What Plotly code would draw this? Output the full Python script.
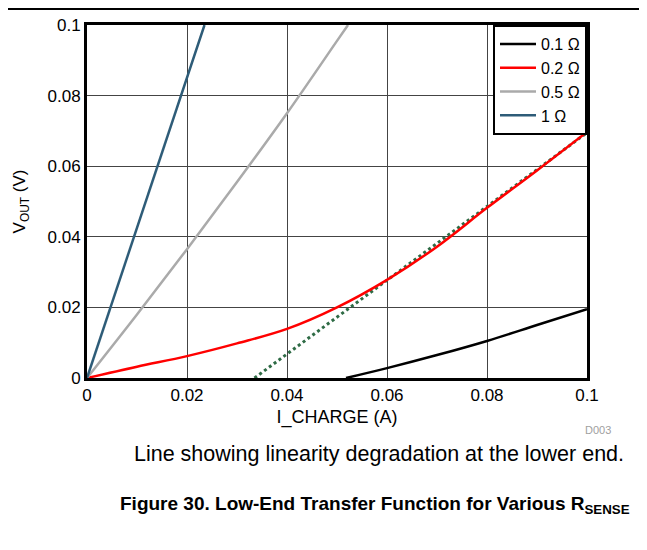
import plotly.graph_objects as go

# ── data ──────────────────────────────────────────────────────────────────────
x_01 = [0.0518, 0.06, 0.07, 0.08, 0.09, 0.1]
y_01 = [0.0, 0.0028, 0.0065, 0.0105, 0.0150, 0.0195]

x_02 = [0.0, 0.01, 0.02, 0.03, 0.04, 0.05, 0.06, 0.07, 0.08, 0.09, 0.1]
y_02 = [0.0, 0.0032, 0.0062, 0.0098, 0.0139, 0.0200, 0.0278, 0.0372, 0.0482, 0.0588, 0.0697]

x_05 = [0.0, 0.01, 0.02, 0.03, 0.04, 0.05, 0.0522]
y_05 = [0.0, 0.0180, 0.0365, 0.0555, 0.0750, 0.0955, 0.1]

x_1 = [0.0, 0.0235]
y_1 = [0.0, 0.1]

x_ideal = [0.0335, 0.1]
y_ideal = [0.0, 0.0695]

TICKS = [0, 0.02, 0.04, 0.06, 0.08, 0.1]
TICK_TEXT = ["0", "0.02", "0.04", "0.06", "0.08", "0.1"]

SERIES = [
    ("0.1 Ω", x_01, y_01, "#000000"),
    ("0.2 Ω", x_02, y_02, "#FF0000"),
    ("0.5 Ω", x_05, y_05, "#AAAAAA"),
    ("1 Ω",   x_1,  y_1,  "#2E5C78"),
]

FONT = "Liberation Sans, Arial, sans-serif"

fig = go.Figure()

# dotted "ideal" line first so the red curve sits on top of it
fig.add_trace(go.Scatter(
    x=x_ideal, y=y_ideal, mode="lines",
    line=dict(color="#2E6B45", width=3, dash="dot"),
    showlegend=False, hoverinfo="skip",
))

for name, xs, ys, col in SERIES:
    fig.add_trace(go.Scatter(
        x=xs, y=ys, mode="lines", name=name,
        line=dict(color=col, width=2.5, shape="spline"),
    ))

# the page body has an 8px default margin, so the figure is 8px smaller
fig.update_layout(
    width=639, height=542,
    margin=dict(l=79, r=60, t=17, b=172),
    plot_bgcolor="#FFFFFF", paper_bgcolor="#FFFFFF",
    font=dict(family=FONT, size=17, color="#000000"),
    legend=dict(
        x=1, y=1, xanchor="right", yanchor="top",
        bgcolor="#FFFFFF", bordercolor="#000000", borderwidth=2,
        font=dict(size=16), tracegroupgap=0, itemwidth=36,
    ),
    shapes=[dict(
        type="line", xref="paper", yref="paper",
        x0=-0.2, x1=1.2, y0=1.0 + 16 / 353, y1=1.0 + 16 / 353,
        line=dict(color="#000000", width=2),
    )],
)

fig.update_xaxes(
    range=[0, 0.1], tickvals=TICKS, ticktext=TICK_TEXT, automargin=False,
    showgrid=True, gridcolor="#444444", gridwidth=1,
    showline=True, mirror=True, linecolor="#000000", linewidth=3,
    zeroline=False, ticks="",
    title=dict(text="I_CHARGE (A)", standoff=6, font=dict(size=18)),
)
fig.update_yaxes(
    range=[0, 0.1], tickvals=TICKS, ticktext=TICK_TEXT, automargin=False,
    showgrid=True, gridcolor="#444444", gridwidth=1,
    showline=True, mirror=True, linecolor="#000000", linewidth=3,
    zeroline=False, ticks="",
    title=dict(text="V<sub>OUT</sub> (V)", standoff=18, font=dict(size=17)),
)

# ── captions ──────────────────────────────────────────────────────────────────
fig.add_annotation(
    text="D003", xref="paper", yref="paper", x=1.022, y=-0.147,
    xanchor="center", yanchor="middle",
    showarrow=False, font=dict(size=11, color="#A0A0A0"),
)
fig.add_annotation(
    text="Line showing linearity degradation at the lower end.",
    xref="paper", yref="paper", x=0.584, y=-0.215,
    xanchor="center", yanchor="middle",
    showarrow=False, font=dict(size=21.5, color="#000000"),
)
fig.add_annotation(
    text="<b>Figure 30. Low-End Transfer Function for Various R<sub>SENSE</sub></b>",
    xref="paper", yref="paper", x=0.576, y=-0.36,
    xanchor="center", yanchor="middle",
    showarrow=False, font=dict(size=19, color="#000000"),
)

fig.write_html("out.html")
